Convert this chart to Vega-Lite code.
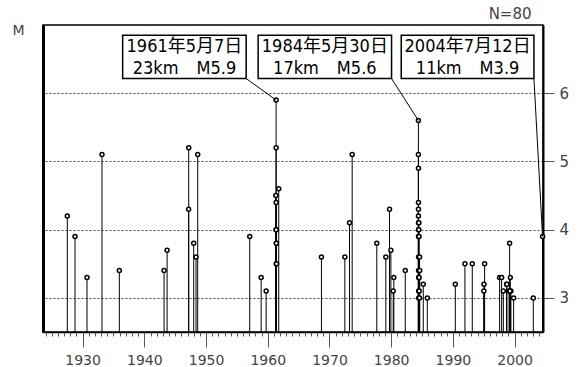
{
  "$schema": "https://vega.github.io/schema/vega-lite/v6.json",
  "width": 500,
  "height": 307,
  "autosize": "none",
  "padding": {"left": 43, "top": 25, "right": 35, "bottom": 35},
  "background": "white",
  "title": {"text": "N=80", "anchor": "end", "dx": -37, "offset": 1, "fontSize": 15, "font": "DejaVu Sans", "fontWeight": "normal", "color": "#444"},
  "config": {"view": {"stroke": "#000", "strokeWidth": 1.5}},
  "datasets": {
    "quakes": [
      {"date": 1927.52, "M": 4.2}, {"date": 1928.77, "M": 3.9}, {"date": 1930.71, "M": 3.3}, {"date": 1933.14, "M": 5.1},
      {"date": 1935.95, "M": 3.4}, {"date": 1943.20, "M": 3.4}, {"date": 1943.69, "M": 3.7}, {"date": 1947.19, "M": 5.2},
      {"date": 1947.18, "M": 4.3}, {"date": 1948.00, "M": 3.8}, {"date": 1948.38, "M": 3.6}, {"date": 1948.65, "M": 5.1},
      {"date": 1957.08, "M": 3.9}, {"date": 1958.93, "M": 3.3}, {"date": 1959.74, "M": 3.1},
      {"date": 1961.35, "M": 5.9}, {"date": 1961.36, "M": 5.2}, {"date": 1961.78, "M": 4.6}, {"date": 1961.30, "M": 4.5},
      {"date": 1961.36, "M": 4.4}, {"date": 1961.36, "M": 4.0}, {"date": 1961.40, "M": 3.8}, {"date": 1961.38, "M": 3.5},
      {"date": 1961.37, "M": 4.0}, {"date": 1961.42, "M": 3.5}, {"date": 1961.39, "M": 3.8},
      {"date": 1968.70, "M": 3.6}, {"date": 1972.49, "M": 3.6}, {"date": 1973.25, "M": 4.1}, {"date": 1973.68, "M": 5.1},
      {"date": 1977.67, "M": 3.8}, {"date": 1979.13, "M": 3.6}, {"date": 1979.73, "M": 4.3}, {"date": 1979.95, "M": 3.7},
      {"date": 1980.33, "M": 3.1}, {"date": 1980.43, "M": 3.3}, {"date": 1982.28, "M": 3.4},
      {"date": 1984.41, "M": 5.6}, {"date": 1984.41, "M": 5.1}, {"date": 1984.42, "M": 4.9}, {"date": 1984.42, "M": 4.4},
      {"date": 1984.42, "M": 4.3}, {"date": 1984.42, "M": 4.2}, {"date": 1984.43, "M": 4.1}, {"date": 1984.43, "M": 4.0},
      {"date": 1984.43, "M": 3.9}, {"date": 1984.44, "M": 3.6}, {"date": 1984.44, "M": 3.4}, {"date": 1984.45, "M": 3.3},
      {"date": 1984.45, "M": 3.1}, {"date": 1984.46, "M": 3.0},
      {"date": 1984.47, "M": 4.0}, {"date": 1984.48, "M": 4.1}, {"date": 1984.50, "M": 3.9}, {"date": 1984.52, "M": 3.3},
      {"date": 1984.55, "M": 3.1}, {"date": 1984.58, "M": 3.0}, {"date": 1984.60, "M": 3.6}, {"date": 1984.62, "M": 3.4},
      {"date": 1985.20, "M": 3.2}, {"date": 1985.85, "M": 3.0}, {"date": 1990.39, "M": 3.2}, {"date": 1991.95, "M": 3.5},
      {"date": 1993.14, "M": 3.5}, {"date": 1995.14, "M": 3.5}, {"date": 1995.03, "M": 3.2}, {"date": 1995.01, "M": 3.1},
      {"date": 1997.57, "M": 3.3}, {"date": 1997.90, "M": 3.3}, {"date": 1998.17, "M": 3.1}, {"date": 1998.70, "M": 3.2},
      {"date": 1998.75, "M": 3.2}, {"date": 1999.19, "M": 3.8}, {"date": 1999.30, "M": 3.3}, {"date": 1999.10, "M": 3.1},
      {"date": 1999.40, "M": 3.1}, {"date": 1999.25, "M": 3.1}, {"date": 1999.84, "M": 3.0}, {"date": 2003.03, "M": 3.0},
      {"date": 2004.53, "M": 3.9}
    ],
    "notes": [
      {"date": 1961.35, "M": 5.9, "boxFrom": 1936.49, "boxTo": 1956.5, "boxMid": 1946.5, "line1": "1961年5月7日", "line2": "23km　M5.9"},
      {"date": 1984.41, "M": 5.6, "boxFrom": 1958.44, "boxTo": 1980.06, "boxMid": 1969.25, "line1": "1984年5月30日", "line2": "17km　M5.6"},
      {"date": 2004.53, "M": 3.9, "boxFrom": 1981.63, "boxTo": 2003.13, "boxMid": 1992.38, "line1": "2004年7月12日", "line2": "11km　M3.9"}
    ]
  },
  "layer": [
    {
      "data": {"name": "quakes"},
      "mark": {"type": "rule", "color": "#000", "strokeWidth": 1},
      "encoding": {
        "x": {"field": "date", "type": "quantitative",
              "scale": {"domain": [1923.58, 2004.6], "nice": false, "zero": false},
              "axis": {"orient": "bottom", "values": [1930, 1940, 1950, 1960, 1970, 1980, 1990, 2000], "format": "d",
                       "tickSize": 15, "tickColor": "#555", "tickWidth": 1, "labelFontSize": 14, "labelFont": "DejaVu Sans",
                       "labelColor": "#444", "labelPadding": 6, "domain": true, "domainColor": "#000", "domainWidth": 1.5,
                       "grid": false, "title": null}},
        "y": {"field": "M", "type": "quantitative",
              "scale": {"domain": [2.5, 7], "nice": false, "zero": false},
              "axis": {"orient": "right", "values": [3, 4, 5, 6], "tickSize": 11, "tickColor": "#555", "labelFontSize": 15,
                       "labelFont": "DejaVu Sans", "labelColor": "#444", "labelPadding": 5, "grid": true, "gridDash": [2, 2],
                       "gridColor": "#444", "gridWidth": 1, "domain": true, "domainWidth": 2, "domainColor": "#000", "title": null}},
        "y2": {"datum": 2.5}
      }
    },
    {
      "data": {"name": "quakes"},
      "mark": {"type": "point", "shape": "circle", "filled": true, "fill": "white", "stroke": "#000", "strokeWidth": 1.5, "size": 16, "opacity": 1},
      "encoding": {
        "x": {"field": "date", "type": "quantitative",
              "scale": {"domain": [1923.58, 2004.6], "nice": false, "zero": false},
              "axis": {"orient": "bottom", "values": [1924, 1925, 1926, 1927, 1928, 1929, 1930, 1931, 1932, 1933, 1934, 1935, 1936, 1937, 1938, 1939, 1940, 1941, 1942, 1943, 1944, 1945, 1946, 1947, 1948, 1949, 1950, 1951, 1952, 1953, 1954, 1955, 1956, 1957, 1958, 1959, 1960, 1961, 1962, 1963, 1964, 1965, 1966, 1967, 1968, 1969, 1970, 1971, 1972, 1973, 1974, 1975, 1976, 1977, 1978, 1979, 1980, 1981, 1982, 1983, 1984, 1985, 1986, 1987, 1988, 1989, 1990, 1991, 1992, 1993, 1994, 1995, 1996, 1997, 1998, 1999, 2000, 2001, 2002, 2003, 2004],
                       "labels": false, "tickSize": 4, "tickColor": "#555", "tickWidth": 1, "domain": false, "grid": false, "title": null}},
        "y": {"field": "M", "type": "quantitative",
              "scale": {"domain": [2.5, 7], "nice": false, "zero": false},
              "axis": {"orient": "left", "labels": false, "ticks": false, "grid": false, "domain": true, "domainWidth": 3,
                       "domainColor": "#000", "title": "M", "titleAngle": 0, "titleAlign": "center", "titleBaseline": "middle",
                       "titleX": -25, "titleY": 5, "titleFontSize": 14, "titleFont": "DejaVu Sans", "titleFontWeight": "normal",
                       "titleColor": "#444"}}
      }
    },
    {
      "data": {"name": "notes"},
      "mark": {"type": "rule", "color": "#000", "strokeWidth": 1},
      "encoding": {
        "x": {"field": "date", "type": "quantitative", "scale": {"domain": [1923.58, 2004.6], "nice": false, "zero": false}, "axis": null},
        "y": {"field": "M", "type": "quantitative", "scale": {"domain": [2.5, 7], "nice": false, "zero": false}, "axis": null},
        "x2": {"field": "boxTo"},
        "y2": {"datum": 6.215}
      }
    },
    {
      "data": {"name": "notes"},
      "mark": {"type": "rect", "fill": "white", "stroke": "#000", "strokeWidth": 1.5},
      "encoding": {
        "x": {"field": "boxFrom", "type": "quantitative", "scale": {"domain": [1923.58, 2004.6], "nice": false, "zero": false}, "axis": null},
        "x2": {"field": "boxTo"},
        "y": {"datum": 6.85, "type": "quantitative", "scale": {"domain": [2.5, 7], "nice": false, "zero": false}, "axis": null},
        "y2": {"datum": 6.215}
      }
    },
    {
      "data": {"name": "notes"},
      "mark": {"type": "text", "font": "DejaVu Sans Condensed, Noto Sans CJK JP", "fontSize": 18, "color": "#000", "align": "center", "baseline": "middle"},
      "encoding": {
        "x": {"field": "boxMid", "type": "quantitative", "scale": {"domain": [1923.58, 2004.6], "nice": false, "zero": false}, "axis": null},
        "y": {"datum": 6.68, "type": "quantitative", "scale": {"domain": [2.5, 7], "nice": false, "zero": false}, "axis": null},
        "text": {"field": "line1"}
      }
    },
    {
      "data": {"name": "notes"},
      "mark": {"type": "text", "font": "DejaVu Sans Condensed, Noto Sans CJK JP", "fontSize": 18, "color": "#000", "align": "center", "baseline": "middle"},
      "encoding": {
        "x": {"field": "boxMid", "type": "quantitative", "scale": {"domain": [1923.58, 2004.6], "nice": false, "zero": false}, "axis": null},
        "y": {"datum": 6.35, "type": "quantitative", "scale": {"domain": [2.5, 7], "nice": false, "zero": false}, "axis": null},
        "text": {"field": "line2"}
      }
    }
  ],
  "resolve": {"axis": {"x": "independent", "y": "independent"}}
}
